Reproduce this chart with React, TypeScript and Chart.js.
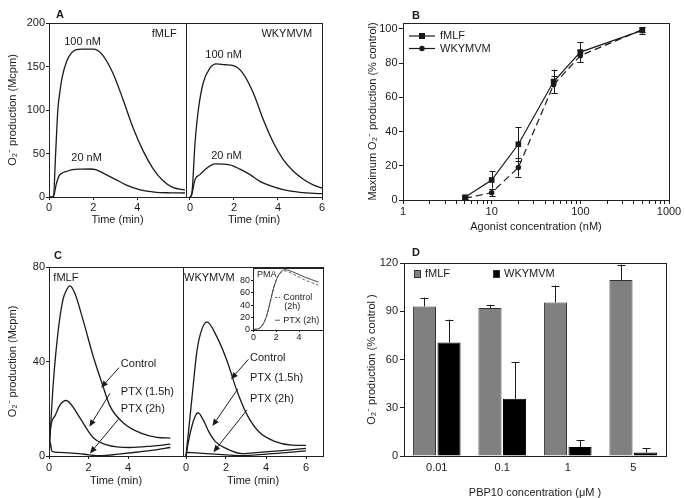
import React, { useEffect, useRef } from 'react';
import { Chart, registerables } from 'chart.js';
Chart.register(...registerables);

const FONT = "'Liberation Sans', Arial, Helvetica, sans-serif";
const INK = '#1a1a1a';
Chart.defaults.font.family = FONT;
Chart.defaults.color = INK;

// ---------- Panel A : time course (min) vs O2- production (Mcpm)
const A_T_FMLF_100 = [0, 0.2, 0.3, 0.4, 0.5, 0.6, 0.8, 1.0, 1.2, 1.5, 2.0, 2.4, 2.9, 3.35, 3.8, 4.26, 4.7, 5.15, 5.6, 6.15];
const A_FMLF_100 = [0, 0, 50, 100, 122, 138, 156, 165, 169, 170, 170, 164, 142, 112, 80, 53, 33, 19, 11, 8];
const A_T_FMLF_20 = [0, 0.2, 0.32, 0.45, 0.6, 0.8, 1.06, 1.5, 1.82, 2.12, 2.58, 3.03, 3.48, 4.09, 4.85, 5.5, 6.15];
const A_FMLF_20 = [0, 0, 14, 24, 27.6, 29.5, 31.4, 32, 32.2, 31.4, 25.7, 19.9, 14, 8.4, 5.4, 4.8, 4.6];
const A_T_WKY_100 = [0, 0.08, 0.23, 0.38, 0.6, 0.9, 1.2, 1.6, 1.97, 2.4, 2.88, 3.33, 3.8, 4.24, 4.7, 5.15, 5.6, 6.0];
const A_WKY_100 = [0, 3, 62, 100, 131, 148, 153, 152, 151, 142.5, 119.5, 89, 62, 43, 29.5, 20.5, 14, 10.3];
const A_T_WKY_20 = [0, 0.08, 0.23, 0.45, 0.76, 1.14, 1.8, 2.27, 2.73, 3.18, 3.64, 4.24, 5.0, 6.0];
const A_WKY_20 = [0, 2.7, 20, 25.7, 33, 38, 37, 32, 25.7, 18, 13, 8.4, 5.4, 3.8];

// ---------- Panel B : dose response
const B_CONC = [5, 10, 20, 50, 100, 500];
const B_FMLF = [1.6, 11.7, 32.6, 69.3, 86.5, 99.2];
const B_FMLF_ERR = [1, 5, 10, 7, 5.7, 2];
const B_WKY = [1.0, 4.3, 19, 67.4, 84.4, 99.6];
const B_WKY_ERR = [0.8, 2.2, 5.4, 5, 3.5, 1.5];
const B_LOG_LABELS = [1, 10, 100, 1000];
const B_LOG_STEPS = [1, 2, 3, 4, 5, 6, 7, 8, 9];

// ---------- Panel C : PTX treatment time courses
const C_T_FMLF_CTRL = [0, 0.1, 0.2, 0.45, 0.7, 0.9, 1.05, 1.3, 1.74, 2.24, 2.67, 3.09, 3.76, 4.61, 5.45, 6.13];
const C_FMLF_CTRL = [0, 15, 29, 52, 66, 70.5, 72, 69, 57, 42, 31, 21, 14, 9.8, 7.9, 7.6];
const C_T_FMLF_PTX15 = [0, 0.05, 0.3, 0.55, 0.86, 1.1, 1.57, 2.24, 2.92, 4.1, 5.2, 6.13];
const C_FMLF_PTX15 = [0, 10, 17, 21.5, 23.5, 22, 16, 7.7, 4.7, 3.6, 4.2, 5.0];
const C_T_FMLF_PTX2 = [0, 0.05, 0.15, 0.5, 1.5, 2.0, 2.6, 3.5, 4.5, 5.3, 6.13];
const C_FMLF_PTX2 = [0, 6, 2, 1.5, 1.0, 0.5, 0.1, 0.8, 1.7, 2.5, 3.6];
const C_T_WKY_CTRL = [0, 0.3, 0.55, 0.8, 1.05, 1.55, 2.05, 2.55, 3.05, 3.63, 4.47, 5.3, 6.0];
const C_WKY_CTRL = [0, 24.8, 44.6, 53.8, 56.8, 50.3, 40.3, 27.5, 17.5, 10.4, 6.1, 4.6, 4.5];
const C_T_WKY_PTX15 = [0, 0.13, 0.3, 0.47, 0.6, 0.88, 1.13, 1.47, 1.97, 2.8, 3.63, 4.8, 6.0];
const C_WKY_PTX15 = [0, 6.5, 12.8, 17, 18.3, 15, 10.4, 6.1, 3.3, 1.0, 1.5, 2.3, 3.2];
const C_T_WKY_PTX2 = [0, 0.05, 1, 2, 2.8, 4, 5, 6];
const C_WKY_PTX2 = [0, 1.5, 1.0, 0.5, 0.2, 0.8, 1.4, 2.2];
// inset (PMA)
const I_T = [0, 0.44, 0.88, 1.17, 1.46, 1.75, 2.05, 2.43, 2.72, 3.5, 4.5, 5.7];
const I_PTX = [1, 2, 10.7, 24, 45, 66.7, 82.7, 94, 97, 93, 85, 77];
const I_CTRL = [1, 2, 10.7, 24, 45, 66.7, 82.7, 92.5, 95, 89.5, 80.5, 72];

// ---------- Panel D : PBP10
const D_CATS = ['0.01', '0.1', '1', '5'];
const D_FMLF = [93, 92, 95.5, 109.5];
const D_FMLF_ERR = [5.5, 1.8, 10.5, 9.5];
const D_WKY = [70.5, 35.6, 5.6, 2.1];
const D_WKY_ERR = [14.3, 23, 4.2, 2.7];

// ---------------------------------------------------------------- helpers
const pts = (xs: number[], ys: number[]) => xs.map((x, i) => ({ x, y: ys[i] }));

function curve(xs: number[], ys: number[], extra: any = {}) {
  return {
    data: pts(xs, ys), borderColor: INK, borderWidth: 1.3, pointRadius: 0, fill: false,
    cubicInterpolationMode: 'monotone', ...extra,
  };
}

const font = (size = 11, lineHeight = 1.2) => ({ family: FONT, size, lineHeight });

function xAxis(o: any) {
  const ticks: any = { includeBounds: false, color: INK, font: font(o.fs || 11), padding: o.pad, maxRotation: 0, autoSkip: false };
  if (o.step) ticks.stepSize = o.step;
  if (o.cb) ticks.callback = o.cb;
  const ax: any = {
    type: o.type || 'linear', display: true,
    afterFit: (s: any) => { s.height = o.h; },
    ticks,
    grid: { display: o.tl > 0, drawOnChartArea: false, drawTicks: o.tl > 0, tickLength: o.tl, tickColor: INK, color: INK },
    border: { display: false },
    title: o.title ? { display: true, text: o.title, color: INK, font: font(11, o.lh || 1.2), padding: { top: 0, bottom: o.titlePad } } : { display: false },
  };
  if (o.min !== undefined) ax.min = o.min;
  if (o.max !== undefined) ax.max = o.max;
  if (o.keep) ax.afterBuildTicks = (s: any) => { s.ticks = s.ticks.filter((t: any) => o.keep.includes(t.value)); };
  if (o.setTicks) ax.afterBuildTicks = (s: any) => { s.ticks = o.setTicks(); };
  return ax;
}

function yAxis(o: any) {
  if (o.hidden) return { type: 'linear', min: o.min, max: o.max, display: false };
  return {
    type: 'linear', min: o.min, max: o.max,
    afterFit: (s: any) => { s.width = o.w; },
    ticks: { stepSize: o.step, includeBounds: false, color: INK, font: font(o.fs || 11), padding: o.pad },
    grid: { display: true, drawOnChartArea: false, drawTicks: true, tickLength: o.tl, tickColor: INK, color: INK },
    border: { display: false },
    title: o.title ? { display: true, text: o.title, color: INK, font: font(11), padding: { top: o.titlePad, bottom: 0 } } : { display: false },
  };
}

const framePlugin = {
  id: 'frame',
  beforeDraw(chart: any, _a: any, opts: any) {
    if (!opts || !opts.fill) return;
    const { ctx, chartArea: a } = chart;
    ctx.save(); ctx.fillStyle = opts.fill;
    ctx.fillRect(a.left, a.top, a.right - a.left, a.bottom - a.top);
    ctx.restore();
  },
  afterDraw(chart: any, _a: any, opts: any) {
    const { ctx, chartArea: a } = chart;
    const l = Math.round(a.left) + 0.5, t = Math.round(a.top) + 0.5;
    const r = Math.round(a.right) + 0.5, b = Math.round(a.bottom) + 0.5;
    ctx.save(); ctx.strokeStyle = (opts && opts.color) || '#222'; ctx.lineWidth = 1;
    ctx.strokeRect(l, t, r - l, b - t);
    ctx.restore();
  },
};

function drawArrow(ctx: any, x1: number, y1: number, x2: number, y2: number) {
  const ang = Math.atan2(y2 - y1, x2 - x1); const L = 7, W = 3;
  const bx = x2 - L * Math.cos(ang), by = y2 - L * Math.sin(ang);
  ctx.beginPath(); ctx.moveTo(x1, y1); ctx.lineTo(bx, by); ctx.stroke();
  ctx.beginPath(); ctx.moveTo(x2, y2);
  ctx.lineTo(bx + W * Math.sin(ang), by - W * Math.cos(ang));
  ctx.lineTo(bx - W * Math.sin(ang), by + W * Math.cos(ang));
  ctx.closePath(); ctx.fill();
}

const notesPlugin = {
  id: 'notes',
  afterDatasetsDraw(chart: any, _a: any, opts: any) {
    const items = (opts && opts.items) || [];
    const { ctx, chartArea: a } = chart;
    const xs = chart.scales.x, ys = chart.scales.y;
    const P = (it: any, x: number, y: number) => it.px ? [a.left + x, a.top + y] : [xs.getPixelForValue(x), ys.getPixelForValue(y)];
    ctx.save();
    for (const it of items) {
      ctx.strokeStyle = it.color || INK; ctx.fillStyle = it.color || INK; ctx.lineWidth = it.lw || 1;
      ctx.setLineDash(it.dash || []);
      if (it.kind === 'text') {
        const [x, y] = P(it, it.x, it.y);
        ctx.font = `${it.bold ? 'bold ' : ''}${it.size || 11}px ${FONT}`;
        ctx.textAlign = it.align || 'left'; ctx.textBaseline = 'middle';
        ctx.fillText(it.text, x, y);
      } else if (it.kind === 'arrow') {
        const [x1, y1] = P(it, it.x1, it.y1); const [x2, y2] = P(it, it.x2, it.y2);
        drawArrow(ctx, x1, y1, x2, y2);
      } else if (it.kind === 'seg') {
        const [x1, y1] = P(it, it.x1, it.y1); const [x2, y2] = P(it, it.x2, it.y2);
        ctx.beginPath(); ctx.moveTo(x1, y1); ctx.lineTo(x2, y2); ctx.stroke();
      } else if (it.kind === 'rect') {
        const [x, y] = P(it, it.x, it.y);
        ctx.fillStyle = it.fill; ctx.fillRect(x, y, it.w, it.h);
        ctx.strokeStyle = '#333'; ctx.strokeRect(x + 0.5, y + 0.5, it.w - 1, it.h - 1);
      } else if (it.kind === 'mark') {
        const [x, y] = P(it, it.x, it.y);
        ctx.beginPath();
        if (it.shape === 'square') ctx.rect(x - 3, y - 3, 6, 6); else ctx.arc(x, y, 2.7, 0, Math.PI * 2);
        ctx.fill();
      }
    }
    ctx.restore();
  },
};

const errPlugin = {
  id: 'errbars',
  afterDatasetsDraw(chart: any) {
    const { ctx } = chart; const ys = chart.scales.y;
    ctx.save(); ctx.strokeStyle = INK; ctx.lineWidth = 1; ctx.setLineDash([]);
    chart.data.datasets.forEach((ds: any, i: number) => {
      if (!ds.errors) return;
      const meta = chart.getDatasetMeta(i);
      meta.data.forEach((el: any, j: number) => {
        const raw = ds.data[j]; const v = typeof raw === 'object' ? raw.y : raw; const e = ds.errors[j];
        const yTop = ys.getPixelForValue(v + e);
        const yBot = ds.errUpOnly ? el.y : ys.getPixelForValue(v - e);
        const x = Math.round(el.x) + 0.5; const cw = ds.capW || 3;
        ctx.beginPath();
        ctx.moveTo(x, yBot); ctx.lineTo(x, yTop);
        ctx.moveTo(x - cw, Math.round(yTop) + 0.5); ctx.lineTo(x + cw, Math.round(yTop) + 0.5);
        if (!ds.errUpOnly) { ctx.moveTo(x - cw, Math.round(yBot) + 0.5); ctx.lineTo(x + cw, Math.round(yBot) + 0.5); }
        ctx.stroke();
      });
    });
    ctx.restore();
  },
};

const PLUGINS = [framePlugin, notesPlugin, errPlugin];

function base(padding: any, scales: any, plugins: any = {}) {
  return {
    responsive: false, animation: false, devicePixelRatio: 1,
    layout: { padding, autoPadding: false },
    scales,
    plugins: { legend: { display: false }, tooltip: { enabled: false }, title: { display: false }, frame: {}, ...plugins },
  };
}

const O2 = 'O\u2082\u207B';

function logTicks() {
  const out: any[] = [];
  for (let d = 1; d < 1000; d *= 10) B_LOG_STEPS.forEach((s) => out.push({ value: s * d, major: s === 1 }));
  out.push({ value: 1000, major: true });
  return out;
}

function buildConfig(key: string): any {
  switch (key) {
    case 'a1':
      return {
        type: 'line', plugins: PLUGINS,
        data: { datasets: [curve(A_T_FMLF_100, A_FMLF_100), curve(A_T_FMLF_20, A_FMLF_20)] },
        options: base({ left: 0, top: 23, right: 9, bottom: 0 }, {
          x: xAxis({ min: 0, max: 6.2, step: 2, keep: [0, 2, 4], h: 38, tl: 3, pad: 1, title: 'Time (min)', titlePad: 8.4 }),
          y: yAxis({ min: 0, max: 200, step: 50, w: 49, tl: 3, pad: 1, title: `${O2} production (Mcpm)`, titlePad: 6.4 }),
        }, { notes: { items: [
          { kind: 'text', text: '100 nM', x: 1.52, y: 178.5, align: 'center' },
          { kind: 'text', text: '20 nM', x: 1.7, y: 44.8, align: 'center' },
          { kind: 'text', text: 'fMLF', x: 5.78, y: 187.7, align: 'right' },
        ] } }),
      };
    case 'a2':
      return {
        type: 'line', plugins: PLUGINS,
        data: { datasets: [curve(A_T_WKY_100, A_WKY_100), curve(A_T_WKY_20, A_WKY_20)] },
        options: base({ left: 10, top: 23, right: 14, bottom: 0 }, {
          x: xAxis({ min: -0.18, max: 6, step: 2, h: 38, tl: 3, pad: 1, title: 'Time (min)', titlePad: 8.4 }),
          y: yAxis({ min: 0, max: 200, hidden: true }),
        }, { notes: { items: [
          { kind: 'text', text: 'WKYMVM', x: 5.55, y: 187.7, align: 'right' },
          { kind: 'text', text: '100 nM', x: 1.53, y: 162.8, align: 'center' },
          { kind: 'text', text: '20 nM', x: 1.66, y: 46.7, align: 'center' },
        ] } }),
      };
    case 'b':
      return {
        type: 'line', plugins: PLUGINS,
        data: { datasets: [
          { label: 'fMLF', data: pts(B_CONC, B_FMLF), errors: B_FMLF_ERR, borderColor: INK, backgroundColor: INK, borderWidth: 1.2, pointStyle: 'rect', pointRadius: 4, pointBorderWidth: 0, tension: 0, fill: false },
          { label: 'WKYMVM', data: pts(B_CONC, B_WKY), errors: B_WKY_ERR, borderColor: INK, backgroundColor: INK, borderWidth: 1.2, borderDash: [7, 4], pointStyle: 'circle', pointRadius: 2.7, pointBorderWidth: 0, tension: 0, fill: false },
        ] },
        options: base({ left: 0, top: 23, right: 16, bottom: 0 }, {
          x: xAxis({ type: 'logarithmic', min: 1, max: 1000, h: 40, tl: 4, pad: 1.5, title: 'Agonist concentration (nM)', titlePad: 6.4,
            setTicks: logTicks,
            cb: (v: number) => (B_LOG_LABELS.some((l) => Math.abs(l - v) < 1e-6) ? String(v) : '') }),
          y: yAxis({ min: 0, max: 103.5, step: 20, w: 63, tl: 4, pad: 1.5, title: `Maximum ${O2} production (% control)`, titlePad: 26.4 }),
        }, { notes: { items: [
          { kind: 'seg', px: true, x1: 6, y1: 13, x2: 32, y2: 13, lw: 1.2 },
          { kind: 'mark', px: true, shape: 'square', x: 19, y: 13 },
          { kind: 'text', px: true, text: 'fMLF', x: 37, y: 13 },
          { kind: 'seg', px: true, x1: 6, y1: 25.5, x2: 32, y2: 25.5, lw: 1.2 },
          { kind: 'mark', px: true, shape: 'circle', x: 19, y: 25.5 },
          { kind: 'text', px: true, text: 'WKYMVM', x: 37, y: 25.5 },
        ] } }),
      };
    case 'c1':
      return {
        type: 'line', plugins: PLUGINS,
        data: { datasets: [curve(C_T_FMLF_CTRL, C_FMLF_CTRL), curve(C_T_FMLF_PTX15, C_FMLF_PTX15), curve(C_T_FMLF_PTX2, C_FMLF_PTX2)] },
        options: base({ left: 0, top: 22, right: 12, bottom: 0 }, {
          x: xAxis({ min: 0, max: 6.77, step: 2, keep: [0, 2, 4], h: 42, tl: 3, pad: 2, title: 'Time (min)', titlePad: 10.4 }),
          y: yAxis({ min: 0, max: 80, step: 40, w: 49, tl: 3, pad: 1, title: `${O2} production (Mcpm)`, titlePad: 6.4 }),
        }, { notes: { items: [
          { kind: 'text', text: 'fMLF', x: 0.22, y: 75.2 },
          { kind: 'text', text: 'Control', x: 3.63, y: 38.8 },
          { kind: 'arrow', x1: 3.54, y1: 37.4, x2: 2.63, y2: 28.9 },
          { kind: 'text', text: 'PTX (1.5h)', x: 3.63, y: 27.2 },
          { kind: 'arrow', x1: 3.08, y1: 26.5, x2: 2.04, y2: 12.4 },
          { kind: 'text', text: 'PTX (2h)', x: 3.63, y: 19.9 },
          { kind: 'arrow', x1: 3.5, y1: 15.5, x2: 2.07, y2: 1.1 },
        ] } }),
      };
    case 'c2':
      return {
        type: 'line', plugins: PLUGINS,
        data: { datasets: [curve(C_T_WKY_CTRL, C_WKY_CTRL), curve(C_T_WKY_PTX15, C_WKY_PTX15), curve(C_T_WKY_PTX2, C_WKY_PTX2)] },
        options: base({ left: 10, top: 22, right: 12, bottom: 0 }, {
          x: xAxis({ min: -0.15, max: 6.85, step: 2, h: 42, tl: 3, pad: 2, title: 'Time (min)', titlePad: 10.4 }),
          y: yAxis({ min: 0, max: 80, hidden: true }),
        }, { notes: { items: [
          { kind: 'text', text: 'WKYMVM', x: -0.1, y: 75.2 },
          { kind: 'text', text: 'Control', x: 3.2, y: 41.4 },
          { kind: 'arrow', x1: 3.12, y1: 40.9, x2: 2.25, y2: 32.5 },
          { kind: 'text', text: 'PTX (1.5h)', x: 3.2, y: 32.9 },
          { kind: 'arrow', x1: 2.59, y1: 28.4, x2: 1.32, y2: 12.7 },
          { kind: 'text', text: 'PTX (2h)', x: 3.2, y: 24.1 },
          { kind: 'arrow', x1: 3.05, y1: 19.5, x2: 1.37, y2: 1.6 },
        ] } }),
      };
    case 'inset':
      return {
        type: 'line', plugins: PLUGINS,
        data: { datasets: [
          curve(I_T, I_PTX, { borderColor: '#444', borderWidth: 1 }),
          curve(I_T, I_CTRL, { borderColor: '#666', borderWidth: 1, borderDash: [3, 2] }),
        ] },
        options: base({ left: 0, top: 5, right: 7, bottom: 0 }, {
          x: xAxis({ min: -0.05, max: 6.1, step: 2, keep: [0, 2, 4], h: 15, tl: 2, pad: 0, fs: 9 }),
          y: yAxis({ min: 0, max: 99, step: 20, w: 25, tl: 2, pad: 1, fs: 9 }),
        }, { frame: { fill: '#fff' }, notes: { items: [
          { kind: 'text', text: 'PMA', x: 0.31, y: 89, size: 9 },
          { kind: 'seg', x1: 1.89, y1: 52.3, x2: 2.32, y2: 52.3, dash: [2, 1.5], color: '#555' },
          { kind: 'text', text: 'Control', x: 2.61, y: 52.3, size: 9 },
          { kind: 'text', text: '(2h)', x: 2.7, y: 38.2, size: 9 },
          { kind: 'seg', x1: 1.89, y1: 15.7, x2: 2.32, y2: 15.7, color: '#555' },
          { kind: 'text', text: 'PTX (2h)', x: 2.61, y: 15.7, size: 9 },
        ] } }),
      };
    case 'd':
    default:
      return {
        type: 'bar', plugins: PLUGINS,
        data: { labels: D_CATS, datasets: [
          { label: 'fMLF', data: D_FMLF, errors: D_FMLF_ERR, errUpOnly: true, capW: 4, backgroundColor: '#808080', borderColor: '#333', borderWidth: 1, categoryPercentage: 0.75, barPercentage: 0.94 },
          { label: 'WKYMVM', data: D_WKY, errors: D_WKY_ERR, errUpOnly: true, capW: 4, backgroundColor: '#000', borderColor: '#000', borderWidth: 1, categoryPercentage: 0.75, barPercentage: 0.94 },
        ] },
        options: base({ left: 0, top: 18, right: 19, bottom: 0 }, {
          x: xAxis({ type: 'category', h: 42, tl: 0, pad: 5, title: 'PBP10 concentration (\u03BCM )', titlePad: 0, lh: 1 }),
          y: yAxis({ min: 0, max: 120, step: 30, w: 64, tl: 4, pad: 2, title: `${O2} production (% control )`, titlePad: 25.4 }),
        }, { notes: { items: [
          { kind: 'rect', px: true, x: 10, y: 7, w: 7, h: 8, fill: '#808080' },
          { kind: 'text', px: true, text: 'fMLF', x: 21, y: 11 },
          { kind: 'rect', px: true, x: 89, y: 7, w: 7, h: 8, fill: '#000' },
          { kind: 'text', px: true, text: 'WKYMVM', x: 100, y: 11 },
        ] } }),
      };
  }
}

const SPECS = [
  { key: 'a1', left: 0, top: 0, w: 195, h: 235 },
  { key: 'a2', left: 176, top: 0, w: 160, h: 235 },
  { key: 'b', left: 340, top: 0, w: 345, h: 240 },
  { key: 'c1', left: 0, top: 245, w: 195, h: 253 },
  { key: 'c2', left: 173, top: 245, w: 162, h: 253 },
  { key: 'inset', left: 228, top: 262, w: 102, h: 83 },
  { key: 'd', left: 340, top: 245, w: 345, h: 253 },
];

const LETTERS = [
  { t: 'A', left: 56, top: 7.5 },
  { t: 'B', left: 412, top: 8.5 },
  { t: 'C', left: 54, top: 249 },
  { t: 'D', left: 412, top: 246 },
];

export default function App() {
  const refs = useRef<Record<string, HTMLCanvasElement | null>>({});
  useEffect(() => {
    const charts = SPECS.map((s) => new Chart(refs.current[s.key] as HTMLCanvasElement, buildConfig(s.key)));
    return () => charts.forEach((c) => c.destroy());
  }, []);
  return (
    <div style={{ position: 'absolute', left: 0, top: 0, width: 685, height: 498, background: '#fff', overflow: 'hidden', fontFamily: FONT }}>
      {SPECS.map((s) => (
        <canvas key={s.key} ref={(el) => { refs.current[s.key] = el; }} width={s.w} height={s.h}
          style={{ position: 'absolute', left: s.left, top: s.top, width: s.w, height: s.h, display: 'block' }} />
      ))}
      {LETTERS.map((l) => (
        <div key={l.t} style={{ position: 'absolute', left: l.left, top: l.top, fontSize: 11, lineHeight: '13px', fontWeight: 'bold', color: INK }}>{l.t}</div>
      ))}
    </div>
  );
}
